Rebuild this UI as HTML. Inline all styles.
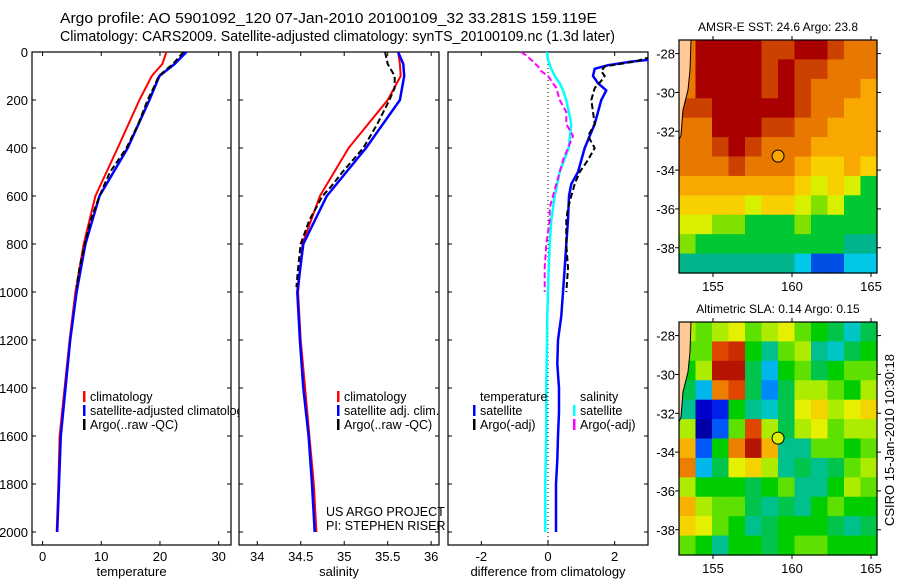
<!DOCTYPE html>
<html><head><meta charset="utf-8">
<style>
html,body{margin:0;padding:0;background:#fff;}
svg{display:block;font-family:"Liberation Sans",sans-serif;}
text{fill:#000;}
</style></head>
<body>
<svg id="fig" width="900" height="580" viewBox="0 0 900 580" xmlns="http://www.w3.org/2000/svg">
<text x="60" y="23" font-size="14.5" textLength="537" lengthAdjust="spacingAndGlyphs">Argo profile: AO 5901092_120 07-Jan-2010 20100109_32 33.281S 159.119E</text>
<text x="60" y="41" font-size="14.5" textLength="555" lengthAdjust="spacingAndGlyphs">Climatology: CARS2009. Satellite-adjusted climatology: synTS_20100109.nc (1.3d later)</text>
<g id="g"></g>
</svg>
<script>
// ---- data ----
const depthTicks=[0,200,400,600,800,1000,1200,1400,1600,1800,2000];
const tempTicks=[0,10,20,30];
const salTicks=[34,34.5,35,35.5,36];
const diffTicks=[-2,0,2];
const depths=[0,50,100,200,400,600,800,1000,1200,1400,1600,1800,2000];
const tempClim=[21.1,20.4,18.6,16.5,12.8,9.0,7.0,5.6,4.6,3.75,2.9,2.7,2.4];
const tempSat=[24.5,22.5,19.9,18.2,14.5,9.7,7.3,5.8,4.7,3.9,3.1,2.8,2.5];
const argoDepths=[0,50,100,150,200,300,400,500,560,600,700,800,900,980];
const tempArgo=[24.0,22.2,19.8,18.9,17.9,16.3,14.3,11.5,10.4,9.7,8.2,7.2,6.3,5.8];
const salClim=[35.62,35.64,35.65,35.5,35.05,34.72,34.52,34.47,34.5,34.55,34.6,34.65,34.68];
const salSat=[35.62,35.68,35.69,35.64,35.25,34.8,34.53,34.46,34.49,34.53,34.59,34.63,34.66];
const salArgo=[35.47,35.5,35.58,35.58,35.52,35.38,35.22,34.98,34.85,34.75,34.6,34.5,34.47,34.45];
const diffDepths=[0,30,40,55,70,100,130,160,200,300,400,500,550,600,700,800,900,1000,1100,1200,1300,1400,1500,1600,1700,1800,2000];
const dTempSat=[3.4,3.2,2.5,1.8,1.4,1.35,1.5,1.75,1.6,1.4,1.1,0.9,0.7,0.63,0.6,0.55,0.5,0.45,0.4,0.3,0.28,0.33,0.33,0.3,0.28,0.24,0.24];
const dSalSat=[-0.03,0.0,0.02,0.05,0.1,0.2,0.35,0.45,0.55,0.7,0.62,0.35,0.28,0.2,0.1,0.05,0.02,0.0,-0.02,-0.03,-0.04,-0.05,-0.05,-0.05,-0.07,-0.08,-0.08];
const dArgoDepths=[0,20,40,60,80,100,120,150,200,250,300,350,400,450,500,550,600,650,700,800,900,1000];
const dTempArgo=[3.3,3.1,2.6,1.7,1.6,1.7,1.6,1.4,1.3,1.35,1.4,1.2,1.4,1.2,0.95,0.8,0.7,0.6,0.55,0.55,0.6,0.55];
const dSalArgo=[-0.8,-0.6,-0.45,-0.3,-0.2,0.0,0.1,0.25,0.35,0.55,0.55,0.75,0.6,0.45,0.35,0.25,0.15,0.05,0.05,-0.05,-0.1,-0.1];
const lonTicks=[155,160,165];
const latTicks=[-28,-30,-32,-34,-36,-38];
const sstPalette=['#0050e6','#00c8e6','#00b48c','#00c832','#80e000','#d8f000','#f8d000','#f8a800','#e87800','#cc4000','#a80000'];
const sstGrid=[
[8,10,10,10,10,9,9,10,10,9,8,8],
[8,10,10,10,10,9,10,9,9,8,8,8],
[8,10,10,10,10,9,10,9,8,8,8,7],
[9,9,10,10,10,10,10,9,8,8,7,7],
[8,8,10,10,10,9,9,8,8,7,7,7],
[8,8,9,10,9,8,8,8,7,7,7,7],
[8,8,8,9,8,8,8,7,6,6,7,6],
[7,7,7,7,7,7,7,6,5,6,5,3],
[6,6,6,6,5,6,6,5,4,5,3,3],
[5,5,4,4,3,3,3,4,3,3,3,3],
[4,3,3,3,3,3,3,3,3,3,2,2],
[2,2,2,2,2,2,2,1,0,0,1,1]];
const slaGrid=[
[.6,.55,.6,.65,.55,.6,.65,.55,.5,.45,.35,.45],
[.55,.55,.85,.9,.5,.4,.55,.6,.4,.35,.45,.5],
[.5,.6,.95,.95,.45,.3,.5,.55,.45,.5,.55,.55],
[.45,.3,.8,.85,.45,.25,.45,.6,.6,.55,.5,.6],
[.4,.1,.15,.5,.4,.35,.45,.65,.7,.6,.65,.7],
[.6,.05,.2,.55,.85,.6,.45,.6,.65,.55,.6,.6],
[.75,.2,.5,.8,.95,.75,.4,.4,.55,.55,.5,.55],
[.8,.3,.45,.65,.7,.6,.4,.45,.4,.45,.55,.6],
[.6,.5,.5,.5,.45,.5,.55,.4,.4,.5,.6,.55],
[.75,.6,.55,.55,.45,.4,.45,.4,.5,.55,.5,.5],
[.7,.65,.55,.5,.4,.45,.5,.5,.5,.45,.4,.45],
[.55,.5,.4,.5,.5,.45,.5,.55,.55,.5,.5,.5]];
const argoLon=159.119, argoLat=-33.281;

// ---- helpers ----
const NS='http://www.w3.org/2000/svg';
const G=document.getElementById('g');
function el(t,a,p){const e=document.createElementNS(NS,t);for(const k in a)e.setAttribute(k,a[k]);(p||G).appendChild(e);return e;}
const yTop=52, yBot=545;
const yD=d=>yTop+d*0.24;
function lin(d0,d1,r0,r1){return v=>r0+(v-d0)/(d1-d0)*(r1-r0);}

function panel(name,x0,x1,xmin,xmax,xticks,xlabel,showY){
  const xs=lin(xmin,xmax,x0,x1);
  const g=el('g',{});
  
  
  const cp=el('clipPath',{id:'c'+name},g);
  el('rect',{x:x0,y:yTop,width:x1-x0,height:yBot-yTop},cp);
  const r=el('rect',{x:x0,y:yTop,width:x1-x0,height:yBot-yTop,fill:'none',stroke:'#000','stroke-width':1.2},g);
  
  
  depthTicks.forEach(d=>{
    const y=yD(d);
    el('line',{x1:x0,x2:x0+4,y1:y,y2:y,stroke:'#000'},g);
    el('line',{x1:x1-4,x2:x1,y1:y,y2:y,stroke:'#000'},g);
    if(showY){const t=el('text',{x:x0-4,y:y+5,'font-size':13,'text-anchor':'end'},g);t.textContent=d;
      
      }
  });
  xticks.forEach(v=>{
    const x=xs(v);
    el('line',{x1:x,x2:x,y1:yBot,y2:yBot-4,stroke:'#000'},g);
    el('line',{x1:x,x2:x,y1:yTop,y2:yTop+4,stroke:'#000'},g);
    const t=el('text',{x:x,y:yBot+16,'font-size':13,'text-anchor':'middle'},g);t.textContent=v;
    
    
  });
  const t=el('text',{x:(x0+x1)/2,y:yBot+31,'font-size':13,'text-anchor':'middle'},g);t.textContent=xlabel;
  
  
  const lg=el('g',{'clip-path':'url(#c'+name+')'},g);
  return {xs,lg,g};
}
function series(p,ds,vs,color,w,dash,name){
  const pts=ds.map((d,i)=>p.xs(vs[i]).toFixed(1)+','+yD(d).toFixed(1)).join(' ');
  const a={points:pts,fill:'none',stroke:color,'stroke-width':w,'stroke-linejoin':'round'};
  if(dash)a['stroke-dasharray']=dash;
  const e=el('polyline',a,p.lg);
  
  
}
function legend(g,x,y,items,clip){
  items.forEach((it,i)=>{
    const yy=y+i*14;
    if(it[0])el('rect',{x:x,y:yy-6,width:2.5,height:11,fill:it[0]},g);
    const a={x:x+7,y:yy+4,'font-size':12.5};
    if(clip)a['clip-path']=clip;
    const t=el('text',a,g);t.textContent=it[1];
    
    
  });
}

// temperature
const p1=panel('temperature-panel',32,231,-1.8,32.1,tempTicks,'temperature',true);
series(p1,depths,tempClim,'#ff0000',2,null,'temp-climatology-line');
series(p1,depths,tempSat,'#0000ff',2.5,null,'temp-satellite-line');
series(p1,argoDepths,tempArgo,'#000',2,'6,3','temp-argo-line');
const lc=el('clipPath',{id:'legclip'});
el('rect',{x:32,y:380,width:207,height:60},lc);
legend(p1.g,83,397,[['#f00','climatology'],['#00f','satellite-adjusted climatology'],['#000','Argo(..raw -QC)']],'url(#legclip)');
// salinity
const p2=panel('salinity-panel',239,439,33.79,36.09,salTicks,'salinity',false);
series(p2,depths,salClim,'#ff0000',2,null,'sal-climatology-line');
series(p2,depths,salSat,'#0000ff',2.5,null,'sal-satellite-line');
series(p2,argoDepths,salArgo,'#000',2,'6,3','sal-argo-line');
legend(p2.g,337,397,[['#f00','climatology'],['#00f','satellite adj. clim.'],['#000','Argo(..raw -QC)']]);
let t=el('text',{x:326,y:516,'font-size':12.5},p2.g);t.textContent='US ARGO PROJECT';


t=el('text',{x:326,y:530,'font-size':12.5},p2.g);t.textContent='PI: STEPHEN RISER';


// difference
const p3=panel('difference-panel',448,648,-3.0,3.0,diffTicks,'difference from climatology',false);
el('line',{x1:p3.xs(0),x2:p3.xs(0),y1:yTop,y2:yBot,stroke:'#000','stroke-dasharray':'1,3'},p3.lg);
series(p3,diffDepths,dTempSat,'#0000ff',2.5,null,'diff-temp-satellite-line');
series(p3,dArgoDepths,dTempArgo,'#000',2,'6,3','diff-temp-argo-line');
series(p3,diffDepths,dSalSat,'#00ffff',2.5,null,'diff-sal-satellite-line');
series(p3,dArgoDepths,dSalArgo,'#ff00ff',2,'6,3','diff-sal-argo-line');
legend(p3.g,473,397,[[null,'temperature'],['#00f','satellite'],['#000','Argo(-adj)']]);
legend(p3.g,573,397,[[null,'salinity'],['#0ff','satellite'],['#f0f','Argo(-adj)']]);

// maps
const slaStops=[[0,[0,0,128]],[0.12,[0,0,220]],[0.22,[0,110,255]],[0.32,[0,200,230]],[0.42,[0,190,120]],[0.5,[0,205,0]],[0.58,[150,235,0]],[0.66,[240,240,0]],[0.76,[248,170,0]],[0.86,[220,60,0]],[1,[160,0,0]]];
function slaColor(v){
  for(let i=1;i<slaStops.length;i++){
    if(v<=slaStops[i][0]){const a=slaStops[i-1],b=slaStops[i],f=(v-a[0])/(b[0]-a[0]);
      return 'rgb('+a[1].map((c,k)=>Math.round(c+(b[1][k]-c)*f)).join(',')+')';}
  }
  return 'rgb(160,0,0)';
}
function map(name,y0,title,grid,colorFn,circFill){
  const x0=679,x1=877,y1=y0+233;
  const lonS=lin(152.85,165.38,x0,x1), latS=lin(-27.3,-39.3,y0,y1);
  const g=el('g',{});
  
  
  const nr=grid.length,nc=grid[0].length,cw=(x1-x0)/nc,ch=(y1-y0)/nr;
  grid.forEach((row,i)=>row.forEach((v,j)=>{
    el('rect',{x:x0+j*cw,y:y0+i*ch,width:cw+0.6,height:ch+0.6,fill:colorFn(v)},g);
  }));
  const land=[[0,0],[12,0],[11,30],[9,50],[4,70],[2,95],[0,100]].map(p=>(x0+p[0])+','+(y0+p[1])).join(' ');
  el('polygon',{points:land,fill:'#ffc896'},g);
  el('polyline',{points:[[12,0],[11,30],[9,50],[4,70],[2,95],[0,100]].map(p=>(x0+p[0])+','+(y0+p[1])).join(' '),fill:'none',stroke:'#000','stroke-width':1},g);
  const c=el('circle',{cx:lonS(argoLon),cy:latS(argoLat),r:6,fill:circFill,stroke:'#000','stroke-width':1},g);
  
  
  el('rect',{x:x0,y:y0,width:x1-x0,height:y1-y0,fill:'none',stroke:'#000','stroke-width':1.2},g);
  lonTicks.forEach(v=>{const x=lonS(v);
    el('line',{x1:x,x2:x,y1:y1,y2:y1+4,stroke:'#000'},g);
    el('line',{x1:x,x2:x,y1:y0,y2:y0-4,stroke:'#000'},g);
    const tt=el('text',{x:x,y:y1+18,'font-size':13,'text-anchor':'middle'},g);tt.textContent=v;
    
    });
  latTicks.forEach(v=>{const y=latS(v);
    el('line',{x1:x0-4,x2:x0,y1:y,y2:y,stroke:'#000'},g);
    el('line',{x1:x1,x2:x1+4,y1:y,y2:y,stroke:'#000'},g);
    const tt=el('text',{x:x0-4,y:y+5,'font-size':13,'text-anchor':'end'},g);tt.textContent=v;
    
    });
  const tt=el('text',{x:778,y:y0-9,'font-size':12,'text-anchor':'middle'},g);tt.textContent=title;
  
  
}
map('sst-map',40,'AMSR-E SST: 24.6 Argo: 23.8',sstGrid,v=>sstPalette[v],'#f8a800');
map('sla-map',322,'Altimetric SLA: 0.14 Argo: 0.15',slaGrid,slaColor,'#d8f000');
t=el('text',{x:0,y:0,'font-size':13,'text-anchor':'middle',transform:'translate(894,440) rotate(-90)'});
t.textContent='CSIRO 15-Jan-2010 10:30:18';


</script>
</body></html>
